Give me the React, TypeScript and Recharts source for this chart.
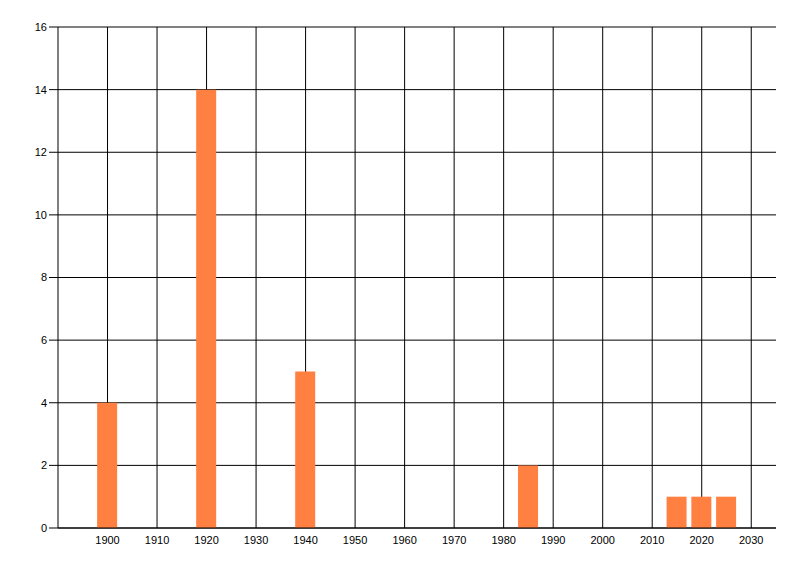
import React from 'react';
import { BarChart, Bar, XAxis, YAxis, CartesianGrid } from 'recharts';

// years and counts
const years = [1900, 1920, 1940, 1985, 2015, 2020, 2025];
const counts = [4, 14, 5, 2, 1, 1, 1];

const xTicks = [1900, 1910, 1920, 1930, 1940, 1950, 1960, 1970, 1980, 1990, 2000, 2010, 2020, 2030];
const yTicks = [0, 2, 4, 6, 8, 10, 12, 14, 16];

const data = years.map((year, i) => ({ year, count: counts[i] }));

const tickStyle = { fill: '#000', fontSize: 11, fontFamily: '"Liberation Sans", Arial, sans-serif' };

const App: React.FC = () => {
  return (
    <div style={{ position: 'absolute', left: 0, top: 0, width: 800, height: 576, background: '#fff' }}>
      <BarChart
        width={800}
        height={576}
        data={data}
        margin={{ top: 27, right: 24, left: 0, bottom: 0 }}
      >
        <CartesianGrid stroke="#000" strokeOpacity={1} horizontalValues={yTicks} verticalValues={xTicks} />
        <XAxis
          dataKey="year"
          type="number"
          domain={[1890, 2035]}
          ticks={xTicks}
          allowDataOverflow
          height={48}
          tickLine={false}
          axisLine={{ stroke: '#000' }}
          tick={tickStyle}
        />
        <YAxis
          type="number"
          domain={[0, 16]}
          ticks={yTicks}
          width={58}
          tickSize={9}
          tickLine={{ stroke: '#000' }}
          axisLine={{ stroke: '#000' }}
          tick={tickStyle}
        />
        <Bar dataKey="count" fill="#FF8040" barSize={20} isAnimationActive={false} />
      </BarChart>
    </div>
  );
};

export default App;
